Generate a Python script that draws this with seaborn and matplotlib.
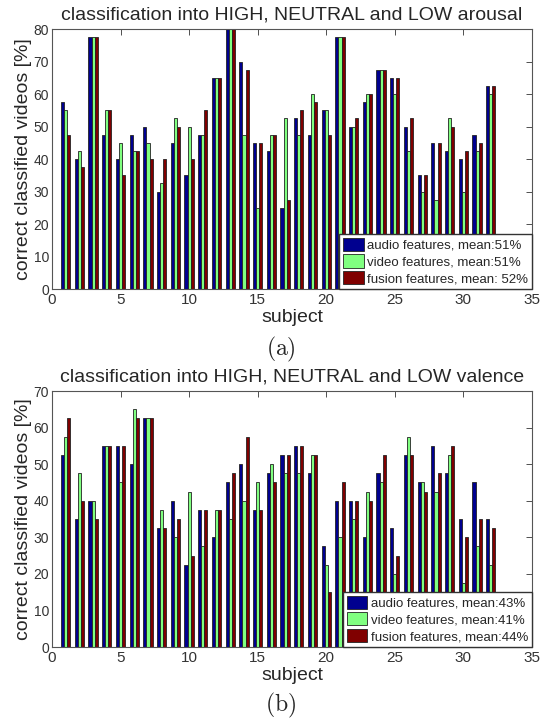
import numpy as np
import pandas as pd
import matplotlib
matplotlib.use('Agg')
import matplotlib.pyplot as plt
import seaborn as sns

subjects = list(range(1, 33))

arousal_audio = [57.5, 40, 77.5, 47.5, 40, 47.5, 50, 30, 45, 35, 47.5, 65, 80, 70, 45, 42.5,
                 25, 52.5, 47.5, 55, 77.5, 50, 57.5, 67.5, 65, 50, 35, 45, 42.5, 40, 47.5, 62.5]
arousal_video = [55, 42.5, 77.5, 55, 45, 42.5, 45, 32.5, 52.5, 50, 47.5, 65, 80, 47.5, 25, 47.5,
                 52.5, 47.5, 60, 55, 77.5, 50, 60, 67.5, 60, 42.5, 30, 27.5, 52.5, 30, 42.5, 60]
arousal_fusion = [47.5, 37.5, 77.5, 55, 35, 42.5, 40, 40, 50, 40, 55, 65, 80, 67.5, 45, 47.5,
                  27.5, 55, 57.5, 47.5, 77.5, 52.5, 60, 67.5, 65, 52.5, 35, 45, 50, 42.5, 45, 62.5]

valence_audio = [52.5, 35, 40, 55, 55, 50, 62.5, 32.5, 40, 22.5, 37.5, 30, 45, 50, 37.5, 47.5,
                 52.5, 55, 47.5, 27.5, 40, 40, 30, 47.5, 32.5, 52.5, 45, 55, 47.5, 35, 45, 35]
valence_video = [57.5, 47.5, 40, 55, 45, 65, 62.5, 37.5, 30, 42.5, 27.5, 37.5, 35, 40, 45, 50,
                 47.5, 47.5, 52.5, 22.5, 30, 35, 42.5, 45, 20, 57.5, 45, 42.5, 52.5, 17.5, 27.5, 22.5]
valence_fusion = [62.5, 40, 35, 55, 55, 62.5, 62.5, 32.5, 35, 25, 37.5, 37.5, 47.5, 57.5, 37.5, 45,
                  52.5, 55, 52.5, 15, 45, 40, 40, 52.5, 25, 52.5, 42.5, 47.5, 55, 30, 35, 32.5]

arousal_labels = ['audio features, mean:51%', 'video features, mean:51%', 'fusion features, mean: 52%']
valence_labels = ['audio features, mean:43%', 'video features, mean:41%', 'fusion features, mean:44%']

colors = ['#00008F', '#80FF80', '#800000']

sns.set_style('white')
plt.rcParams['font.family'] = ['Liberation Sans', 'DejaVu Sans']
plt.rcParams['mathtext.fontset'] = 'cm'


def long_table(a, v, f, labels):
    rows = []
    for series, lab in zip([a, v, f], labels):
        for s, val in zip(subjects, series):
            rows.append({'subject': s, 'value': val, 'features': lab})
    return pd.DataFrame(rows)


def draw(ax, df, labels, title, ymax):
    sns.barplot(data=df, x='subject', y='value', hue='features', hue_order=labels,
                palette=colors, native_scale=True, width=0.68, saturation=1,
                edgecolor='#222222', linewidth=0.6, errorbar=None, ax=ax)
    ax.set_xlim(0, 35)
    ax.set_ylim(0, ymax)
    ax.set_xticks(range(0, 36, 5))
    ax.set_yticks(range(0, ymax + 1, 10))
    ax.tick_params(direction='in', top=True, right=True, length=4, width=0.6,
                   labelsize=10, colors='#333333', pad=2)
    ax.tick_params(axis='x', labelsize=11, pad=3)
    for sp in ax.spines.values():
        sp.set_color('#555555')
        sp.set_linewidth(0.8)
    ax.set_title(title, fontsize=14, pad=7)
    ax.set_xlabel('subject', fontsize=14, labelpad=1)
    ax.set_ylabel('correct classified videos [%]', fontsize=14, labelpad=1)
    h, l = ax.get_legend_handles_labels()
    ax.legend(h, l, loc='lower right', borderaxespad=0, fancybox=False, edgecolor='#333333',
              framealpha=1, fontsize=9.5, handlelength=1.55, handleheight=1.15,
              handletextpad=0.25, borderpad=0.3, labelspacing=0.2)


fig = plt.figure(figsize=(5.47, 7.19), dpi=100)
ax1 = fig.add_axes([0.095, 0.598, 0.8775, 0.3616])
ax2 = fig.add_axes([0.095, 0.1001, 0.8775, 0.356])

draw(ax1, long_table(arousal_audio, arousal_video, arousal_fusion, arousal_labels), arousal_labels,
     'classification into HIGH, NEUTRAL and LOW arousal', 80)
draw(ax2, long_table(valence_audio, valence_video, valence_fusion, valence_labels), valence_labels,
     'classification into HIGH, NEUTRAL and LOW valence', 70)

fig.text(0.513, 1 - 349 / 719, r'$\mathrm{(a)}$', fontsize=17, ha='center', va='center')
fig.text(0.513, 1 - 705 / 719, r'$\mathrm{(b)}$', fontsize=17, ha='center', va='center')

fig.savefig('out.png', dpi=100)
